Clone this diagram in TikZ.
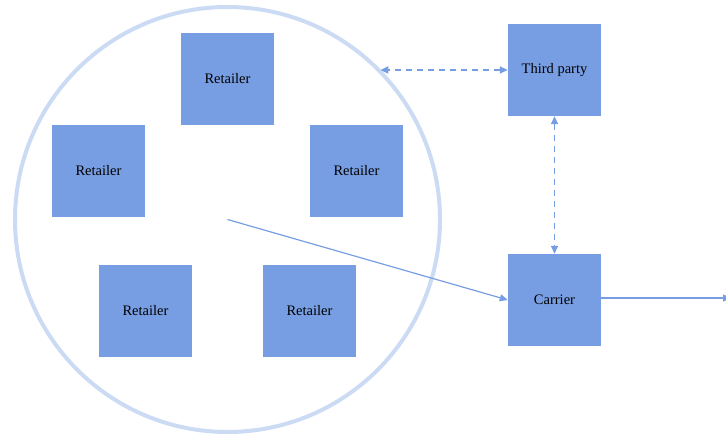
\documentclass[tikz,border=0pt]{standalone}
\usepackage{fontspec}
\setmainfont{Liberation Serif}
\usepackage{tikz}
\usetikzlibrary{calc, positioning, arrows.meta}

\definecolor{boxblue}{RGB}{119,158,226}
\definecolor{ringblue}{RGB}{204,219,244}

\tikzset{
	party/.style={rectangle, fill=boxblue, minimum width=93pt, minimum height=92pt, inner sep=0pt, text centered, font=\fontsize{14.5}{17}\selectfont},
	link/.style={draw=boxblue, line width=1.2pt, -{Triangle[length=8pt,width=7pt]}},
	dlink/.style={draw=boxblue, line width=1.8pt, dash pattern=on 6pt off 5pt, {Triangle[length=8pt,width=7pt]}-{Triangle[length=8pt,width=7pt]}}
}

\begin{document}
\begin{tikzpicture}[x=1pt, y=-1pt]
		\useasboundingbox (0,0) rectangle (726,435);
		% nodes %
		\node[circle, draw=ringblue, line width=4pt, minimum size=425pt, inner sep=0pt, outer sep=0pt] (ring) at (227.5,219.5) {};
		\node[party] (rtop) at (227.5,79) {Retailer};
		\node[party] (rleft) at (98.5,171) {Retailer};
		\node[party] (rright) at (356.5,171) {Retailer};
		\node[party] (rbl) at (145.5,311) {Retailer};
		\node[party] (rbr) at (309.5,311) {Retailer};
		\node[party] (tp) at (554.5,70) {Third party};
		\node[party] (car) at (554.5,300) {Carrier};
		\coordinate (exit) at (731,298);

		% edges %
		\draw[dlink] (tp.west) -- (tp.west -| ring.44);
		\draw[dlink] (tp.south) -- (car.north);
		\draw[link] (ring.center) -- (car.west);
		\draw[link] (car.east |- exit) -- (exit);
\end{tikzpicture}
\end{document}
